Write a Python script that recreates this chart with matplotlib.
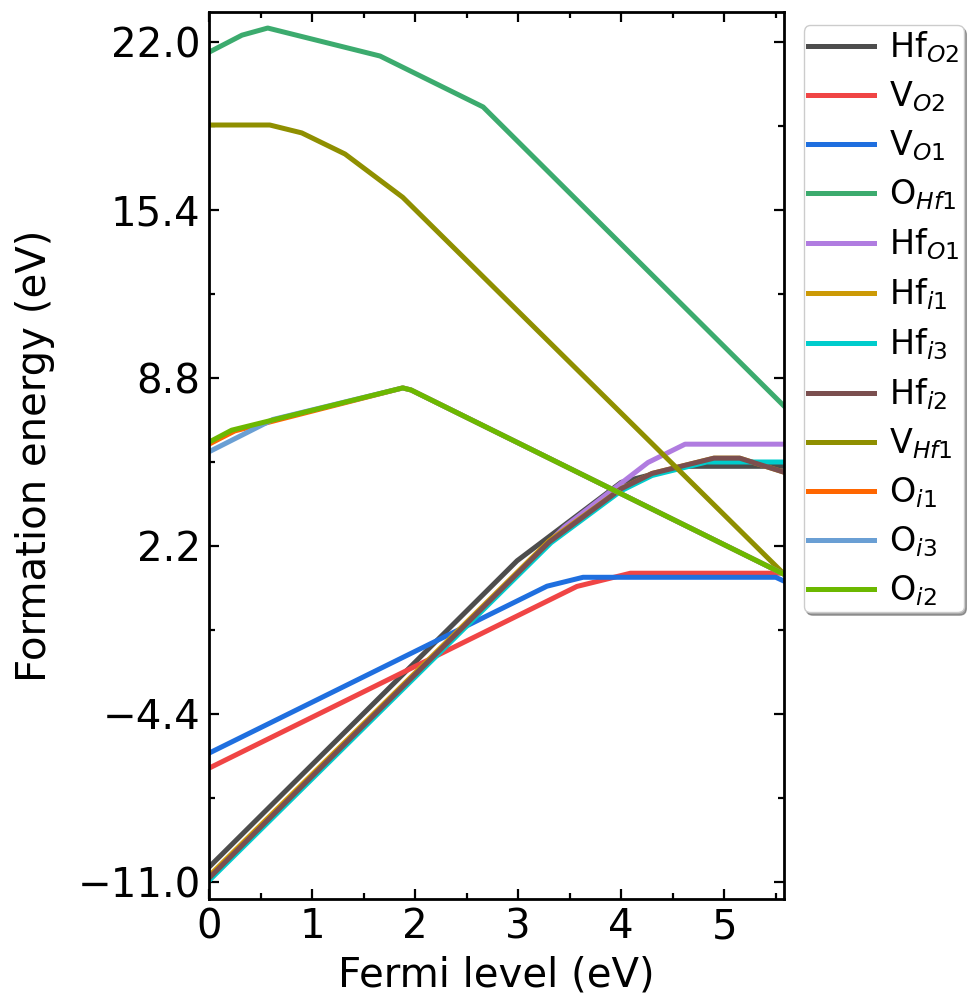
import matplotlib
matplotlib.use("Agg")
import matplotlib.pyplot as plt
from matplotlib.ticker import MultipleLocator, AutoMinorLocator

# ---- data (Fermi level breakpoints, formation energies) ----
labels = [r'Hf$_{O2}$', r'V$_{O2}$', r'V$_{O1}$', r'O$_{Hf1}$', r'Hf$_{O1}$',
          r'Hf$_{i1}$', r'Hf$_{i3}$', r'Hf$_{i2}$', r'V$_{Hf1}$', r'O$_{i1}$',
          r'O$_{i3}$', r'O$_{i2}$']
colors = ['#4d4d4d', '#f04545', '#1f6fdf', '#3cab6e', '#b07ce0', '#cc9a06',
          '#00cccc', '#7b4f4f', '#8f8f00', '#ff6600', '#6a9fd4', '#6cb800']

HfO2_x = [0, 2.99, 4.0, 4.6, 5.58]
HfO2_y = [-10.42, 1.62, 4.70, 5.33, 5.33]
VO2_x = [0, 3.57, 4.09, 5.58]
VO2_y = [-6.53, 0.61, 1.13, 1.13]
VO1_x = [0, 3.28, 3.63, 5.50, 5.58]
VO1_y = [-5.94, 0.62, 0.97, 0.97, 0.82]
OHf1_x = [0, 0.32, 0.57, 1.66, 2.66, 5.58]
OHf1_y = [21.6, 22.27, 22.55, 21.45, 19.45, 7.7]
HfO1_x = [0, 3.45, 4.26, 4.62, 5.58]
HfO1_y = [-10.85, 2.95, 5.48, 6.2, 6.2]
Hfi1_x = [0, 3.3, 4.0, 4.3, 4.9, 5.15, 5.58]
Hfi1_y = [-10.77, 2.40, 4.45, 5.05, 5.65, 5.65, 5.1]
Hfi3_x = [0, 3.32, 4.0, 4.3, 4.83, 5.58]
Hfi3_y = [-10.95, 2.33, 4.37, 4.97, 5.5, 5.5]
Hfi2_x = [0, 3.3, 4.0, 4.3, 4.9, 5.15, 5.58]
Hfi2_y = [-10.85, 2.35, 4.45, 5.05, 5.65, 5.65, 5.1]
VHf1_x = [0, 0.59, 0.90, 1.32, 1.88, 5.58]
VHf1_y = [18.74, 18.74, 18.43, 17.6, 15.9, 1.1]
Oi1_x = [0, 0.25, 1.88, 1.96, 5.58]
Oi1_y = [6.2, 6.72, 8.41, 8.33, 1.09]
Oi3_x = [0, 0.62, 1.88, 1.96, 5.58]
Oi3_y = [5.9, 7.17, 8.41, 8.33, 1.09]
Oi2_x = [0, 0.22, 1.88, 1.96, 5.58]
Oi2_y = [6.28, 6.75, 8.41, 8.33, 1.09]

series = [(HfO2_x, HfO2_y), (VO2_x, VO2_y), (VO1_x, VO1_y), (OHf1_x, OHf1_y),
          (HfO1_x, HfO1_y), (Hfi1_x, Hfi1_y), (Hfi3_x, Hfi3_y), (Hfi2_x, Hfi2_y),
          (VHf1_x, VHf1_y), (Oi1_x, Oi1_y), (Oi3_x, Oi3_y), (Oi2_x, Oi2_y)]

yticks = [-11.0, -4.4, 2.2, 8.8, 15.4, 22.0]
xticks = [0, 1, 2, 3, 4, 5]

fig = plt.figure(figsize=(9.79, 10.07), dpi=100)
ax = fig.add_axes([209/979, 1-899/1007, (784-209)/979, (899-12)/1007])

for (xs, ys), lab, c in zip(series, labels, colors):
    ax.plot(xs, ys, color=c, lw=3.6, label=lab)

ax.set_xlim(0, 5.58)
ax.set_ylim(-11.67, 23.18)
ax.set_xticks(xticks)
ax.set_yticks(yticks)
ax.set_yticklabels([f'{v:.1f}'.replace('-', '\u2212') for v in yticks])
ax.xaxis.set_minor_locator(MultipleLocator(0.5))
ax.yaxis.set_minor_locator(AutoMinorLocator(2))
ax.tick_params(which='both', direction='in', top=True, right=True, width=1.6)
ax.tick_params(which='major', length=7, labelsize=29, pad=6)
ax.tick_params(which='minor', length=4)
for s in ax.spines.values():
    s.set_linewidth(2)

ax.set_xlabel('Fermi level (eV)', fontsize=29, labelpad=6)
ax.set_ylabel('Formation energy (eV)', fontsize=29, labelpad=16)

ax.legend(loc='upper left', bbox_to_anchor=(1.034, 0.985), borderaxespad=0,
          fontsize=24, shadow=True, fancybox=True, handlelength=2.0,
          handletextpad=0.45, labelspacing=0.43, borderpad=0.12)

fig.savefig('out.png', dpi=100)
